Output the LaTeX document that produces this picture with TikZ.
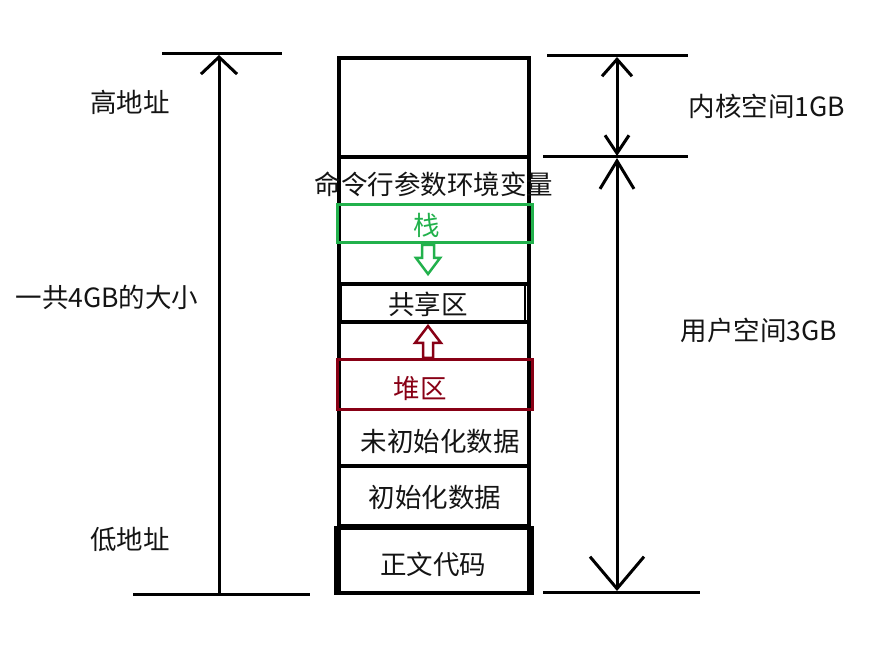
\documentclass[tikz,border=0pt]{standalone}
\usepackage{fontspec}
\setmainfont{Noto Sans CJK SC}
\usetikzlibrary{arrows.meta}
\definecolor{stackgreen}{RGB}{34,177,76}
\definecolor{heapred}{RGB}{136,0,21}
\definecolor{txt}{RGB}{20,20,20}
\begin{document}
\begin{tikzpicture}[x=1pt,y=-1pt,
  lbl/.style={font=\fontsize{26.5}{30}\selectfont, inner sep=0pt, text=txt},
  segbox/.style={draw, inner sep=0pt, font=\fontsize{26.5}{30}\selectfont, text=txt},
  dimline/.style={line width=3pt},
  dimarrow/.style={line width=3pt}]
\useasboundingbox (0,0) rectangle (879,660);
% column
\node[segbox, line width=4pt, minimum width=190pt, minimum height=535pt] (col) at (434,325.5) {};
\node[segbox, line width=4pt, minimum width=190pt, minimum height=99pt] (topseg) at (434,107.5) {};
\node[lbl] (cmd) at (434,184) {命令行参数环境变量};
\node[segbox, draw=stackgreen, line width=3pt, minimum width=195pt, minimum height=38pt] (stack) at (434.5,224) {};
\node[lbl, text=stackgreen] (stacktxt) at (427,225) {栈};
\draw[line width=4pt] (col.west |- 0,284) -- (col.east |- 0,284);
\draw[line width=4pt] (col.west |- 0,322) -- (col.east |- 0,322);
\node[segbox, line width=2pt, minimum width=184pt, minimum height=36pt] (shared) at (433,303) {};
\node[lbl] (sharedtxt) at (428,304) {共享区};
\node[segbox, draw=heapred, line width=3pt, minimum width=195pt, minimum height=50pt] (heap) at (434.5,385) {};
\node[lbl, text=heapred] (heaptxt) at (420,389) {堆区};
\draw[line width=4pt] (col.west |- 0,466) -- (col.east |- 0,466);
\node[lbl] (uninit) at (440,441) {未初始化数据};
\draw[line width=4pt] (col.west |- 0,526) -- (col.east |- 0,526);
\node[lbl] (init) at (435,497) {初始化数据};
\node[segbox, line width=4.5pt, minimum width=196pt, minimum height=65pt] (code) at (434,560.5) {};
\node[lbl] (codetxt) at (433,564) {正文代码};
% hollow arrows
\draw[stackgreen, line width=2.5pt, line join=miter, fill=white]
  (422,245) -- (434,245) -- (434,258) -- (440,258) -- (428,274) -- (416,258) -- (422,258) -- cycle;
\draw[heapred, line width=2.5pt, line join=miter, fill=white]
  (423,358) -- (433,358) -- (433,343) -- (441,343) -- (428,326) -- (415,343) -- (423,343) -- cycle;
% left dimension
\coordinate (lt1) at (162,54); \coordinate (lt2) at (282,54);
\coordinate (lb1) at (133,594); \coordinate (lb2) at (310,594);
\draw[dimline] (lt1) -- (lt2);
\draw[dimline] (lb1) -- (lb2);
\coordinate (la) at (219,594); \coordinate (lz) at (219,55);
\draw[dimarrow, -{Straight Barb[length=17pt,width=36pt]}] (la) -- (lz);
\node[lbl] (high) at (130,102) {高地址};
\node[lbl] (total) at (107,297) {一共4GB的大小};
\node[lbl] (low) at (130,539) {低地址};
% right dimension
\coordinate (rt1) at (547,56); \coordinate (rt2) at (688,56);
\coordinate (rm1) at (543,157); \coordinate (rm2) at (688,157);
\coordinate (rb1) at (543,592); \coordinate (rb2) at (700,592);
\draw[dimline] (rt1) -- (rt2);
\draw[dimline] (rm1) -- (rm2);
\draw[dimline] (rb1) -- (rb2);
\coordinate (ra) at (617,57); \coordinate (rb) at (617,156);
\coordinate (rc) at (617,158); \coordinate (rd) at (617,591);
\draw[dimarrow, {Straight Barb[length=17pt,width=30pt]}-{Straight Barb[length=18pt,width=24pt]}] (ra) -- (rb);
\draw[dimarrow, {Straight Barb[length=28pt,width=34pt]}-{Straight Barb[length=32pt,width=54pt]}] (rc) -- (rd);
\node[lbl] (kernel) at (767,106) {内核空间1GB};
\node[lbl] (user) at (759,330) {用户空间3GB};
\end{tikzpicture}
\end{document}
